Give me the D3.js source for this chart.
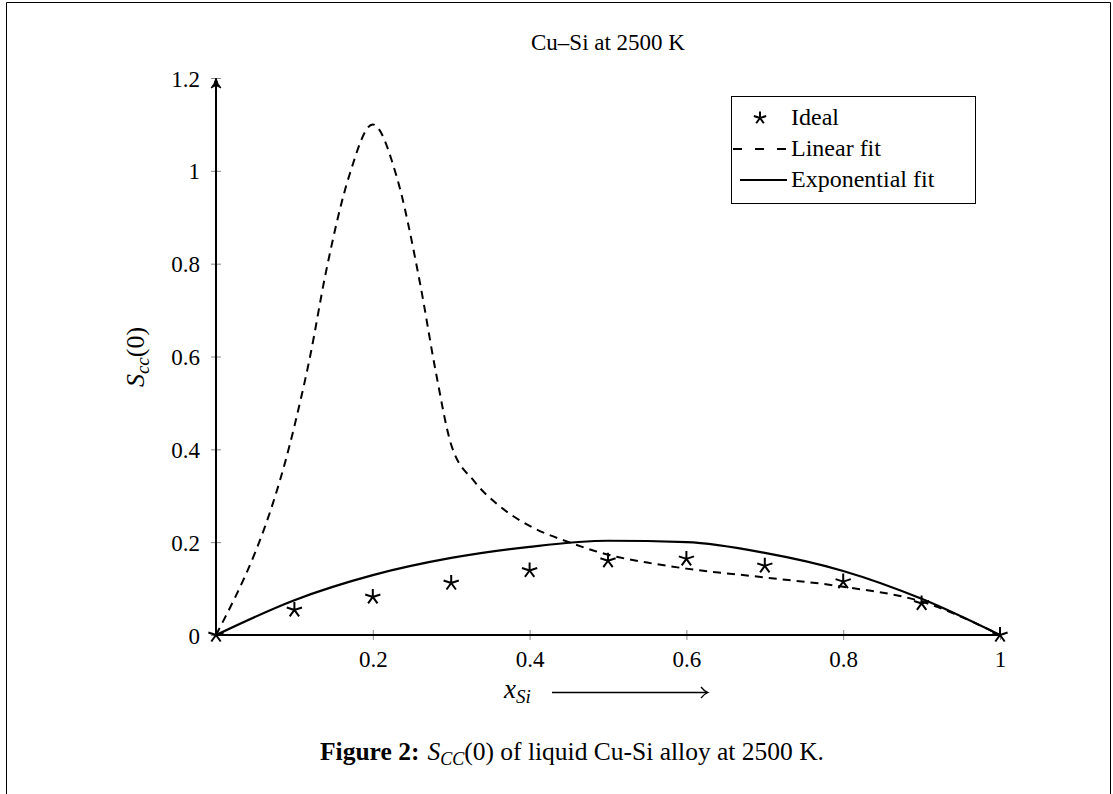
<!DOCTYPE html>
<html>
<head>
<meta charset="utf-8">
<script src="https://cdn.jsdelivr.net/npm/d3@7"></script>
<style>
  body { margin: 0; background: #fff; }
  text { font-family: "Liberation Serif", "DejaVu Serif", serif; fill: #000; }
</style>
</head>
<body>
<div id="chart"></div>
<script>
// composition values (x_Si)
var idealX = [0, 0.1, 0.2, 0.3, 0.4, 0.5, 0.6, 0.7, 0.8, 0.9, 1];
var idealY = [0, 0.054, 0.082, 0.112, 0.139, 0.160, 0.164, 0.149, 0.115, 0.068, 0];

var linX = [0, 0.1, 0.12, 0.14, 0.17, 0.2, 0.23, 0.26, 0.28, 0.3, 0.33, 0.36, 0.4, 0.45, 0.5, 0.55, 0.6, 0.7, 0.8, 0.9, 1];
var linY = [0, 0.45, 0.6, 0.78, 0.99, 1.10, 0.99, 0.76, 0.57, 0.41, 0.33, 0.28, 0.235, 0.2, 0.173, 0.156, 0.143, 0.124, 0.104, 0.072, 0];

var expX = [0, 0.1, 0.2, 0.3, 0.4, 0.5, 0.6, 0.7, 0.8, 0.9, 1];
var expY = [0, 0.075, 0.129, 0.166, 0.19, 0.203, 0.2, 0.177, 0.138, 0.078, 0];

var xTicks = [0.2, 0.4, 0.6, 0.8, 1];
var yTicks = [0, 0.2, 0.4, 0.6, 0.8, 1, 1.2];
var legendLabels = ["Ideal", "Linear fit", "Exponential fit"];

var W = 1113, H = 794;

var svg = d3.select("#chart")
  .append("svg")
    .attr("width", W)
    .attr("height", H);

// page frame
svg.append("path")
  .attr("d", "M6.5,794 V2.5 H1110.5 V794")
  .attr("fill", "none")
  .attr("stroke", "#000")
  .attr("stroke-width", 1);

var x = d3.scaleLinear().domain([0, 1]).range([216, 1000]);
var y = d3.scaleLinear().domain([0, 1.2]).range([635, 78]);

// x axis ticks + labels
var gx = svg.append("g")
  .attr("transform", "translate(0," + y(0) + ")")
  .call(d3.axisBottom(x).tickValues(xTicks).tickSize(0).tickPadding(15).tickFormat(d3.format("")));
gx.select(".domain").remove();
gx.selectAll(".tick text").attr("font-size", 23).attr("font-family", "Liberation Serif").attr("dy", "0.75em");
gx.selectAll(".tick").append("line")
  .attr("y1", -5).attr("y2", 5)
  .attr("stroke", "#888").attr("stroke-width", 1);

// y axis ticks + labels
var gy = svg.append("g")
  .attr("transform", "translate(" + x(0) + ",0)")
  .call(d3.axisLeft(y).tickValues(yTicks).tickSize(0).tickPadding(16).tickFormat(d3.format("")));
gy.select(".domain").remove();
gy.selectAll(".tick text").attr("font-size", 23).attr("font-family", "Liberation Serif").attr("dy", "0.35em");
gy.selectAll(".tick").append("line")
  .attr("x1", -5).attr("x2", 5)
  .attr("stroke", "#888").attr("stroke-width", 1);

// axis lines
svg.append("line")
  .attr("x1", x(0)).attr("x2", x(1))
  .attr("y1", y(0)).attr("y2", y(0))
  .attr("stroke", "#000").attr("stroke-width", 2);
svg.append("line")
  .attr("x1", x(0)).attr("x2", x(0))
  .attr("y1", y(0)).attr("y2", y(1.2) + 4)
  .attr("stroke", "#000").attr("stroke-width", 2);
// arrow head on y axis
var ax = x(0), ay = y(1.2);
svg.append("path")
  .attr("d", "M" + ax + "," + ay +
        " Q" + (ax + 1.5) + "," + (ay + 6) + " " + (ax + 5) + "," + (ay + 10) +
        " Q" + ax + "," + (ay + 7.5) + " " + ax + "," + (ay + 7.5) +
        " Q" + ax + "," + (ay + 7.5) + " " + (ax - 5) + "," + (ay + 10) +
        " Q" + (ax - 1.5) + "," + (ay + 6) + " " + ax + "," + ay + "Z")
  .attr("fill", "#000")
  .attr("stroke", "#000")
  .attr("stroke-width", 1);

// lines
var lin = linX.map(function(d, i) { return [d, linY[i]]; });
var exp = expX.map(function(d, i) { return [d, expY[i]]; });

var line = d3.line()
  .x(function(d) { return x(d[0]); })
  .y(function(d) { return y(d[1]); })
  .curve(d3.curveMonotoneX);

svg.append("path")
  .datum(lin)
  .attr("d", line)
  .attr("fill", "none")
  .attr("stroke", "#000")
  .attr("stroke-width", 2)
  .attr("stroke-dasharray", "8,6");

svg.append("path")
  .datum(exp)
  .attr("d", line)
  .attr("fill", "none")
  .attr("stroke", "#000")
  .attr("stroke-width", 2.2);

// star markers
function starPath(r) {
  var p = "";
  for (var k = 0; k < 5; k++) {
    var a = -Math.PI / 2 + k * 2 * Math.PI / 5;
    p += "M0,0 L" + (r * Math.cos(a)).toFixed(2) + "," + (r * Math.sin(a)).toFixed(2) + " ";
  }
  return p;
}

svg.append("g")
  .selectAll("path")
  .data(idealX)
  .enter()
  .append("path")
    .attr("transform", function(d, i) { return "translate(" + x(d) + "," + y(idealY[i]) + ")"; })
    .attr("d", starPath(8))
    .attr("fill", "none")
    .attr("stroke", "#000")
    .attr("stroke-width", 2);

// title
svg.append("text")
  .attr("x", 608).attr("y", 50)
  .attr("text-anchor", "middle")
  .attr("font-size", 23)
  .text("Cu\u2013Si at 2500 K");

// legend
var lg = svg.append("g");
lg.append("rect")
  .attr("x", 731.5).attr("y", 96.5)
  .attr("width", 244).attr("height", 107)
  .attr("fill", "#fff").attr("stroke", "#000").attr("stroke-width", 1);
var rowY = [118, 149, 180];
lg.append("path")
  .attr("transform", "translate(760," + rowY[0] + ")")
  .attr("d", starPath(6.5))
  .attr("fill", "none").attr("stroke", "#000").attr("stroke-width", 2);
lg.append("line")
  .attr("x1", 733).attr("x2", 787).attr("y1", rowY[1]).attr("y2", rowY[1])
  .attr("stroke", "#000").attr("stroke-width", 2).attr("stroke-dasharray", "9,13");
lg.append("line")
  .attr("x1", 740).attr("x2", 787).attr("y1", rowY[2]).attr("y2", rowY[2])
  .attr("stroke", "#000").attr("stroke-width", 2.2);
lg.selectAll("text.lab")
  .data(legendLabels)
  .enter()
  .append("text")
    .attr("class", "lab")
    .attr("x", 791)
    .attr("y", function(d, i) { return rowY[i] + 7; })
    .attr("font-size", 24)
    .text(function(d) { return d; });

// y label S_cc(0)
var yl = svg.append("text")
  .attr("transform", "translate(144,357) rotate(-90)")
  .attr("text-anchor", "middle")
  .attr("font-size", 26);
yl.append("tspan").attr("font-style", "italic").text("S");
yl.append("tspan").attr("font-style", "italic").attr("font-size", 19).attr("dy", 5).text("cc");
yl.append("tspan").attr("dy", -5).text("(0)");

// x label x_Si with long arrow
var xl = svg.append("text")
  .attr("x", 504).attr("y", 698)
  .attr("font-size", 27);
xl.append("tspan").attr("font-style", "italic").text("x");
xl.append("tspan").attr("font-style", "italic").attr("font-size", 19).attr("dy", 5).text("Si");
svg.append("path")
  .attr("d", "M552,692.5 H707 M701,687 Q704,691 708,692.5 Q704,694 701,698")
  .attr("fill", "none")
  .attr("stroke", "#000")
  .attr("stroke-width", 1.3);

// caption
var cap = svg.append("text")
  .attr("x", 572).attr("y", 760)
  .attr("text-anchor", "middle")
  .attr("font-size", 25.5);
cap.append("tspan").attr("font-weight", "bold").text("Figure 2:");
cap.append("tspan").attr("font-style", "italic").attr("dx", 8).text("S");
cap.append("tspan").attr("font-style", "italic").attr("font-size", 18).attr("dy", 5).text("CC");
cap.append("tspan").attr("dy", -5).text("(0) of liquid Cu-Si alloy at 2500 K.");
</script>
</body>
</html>
